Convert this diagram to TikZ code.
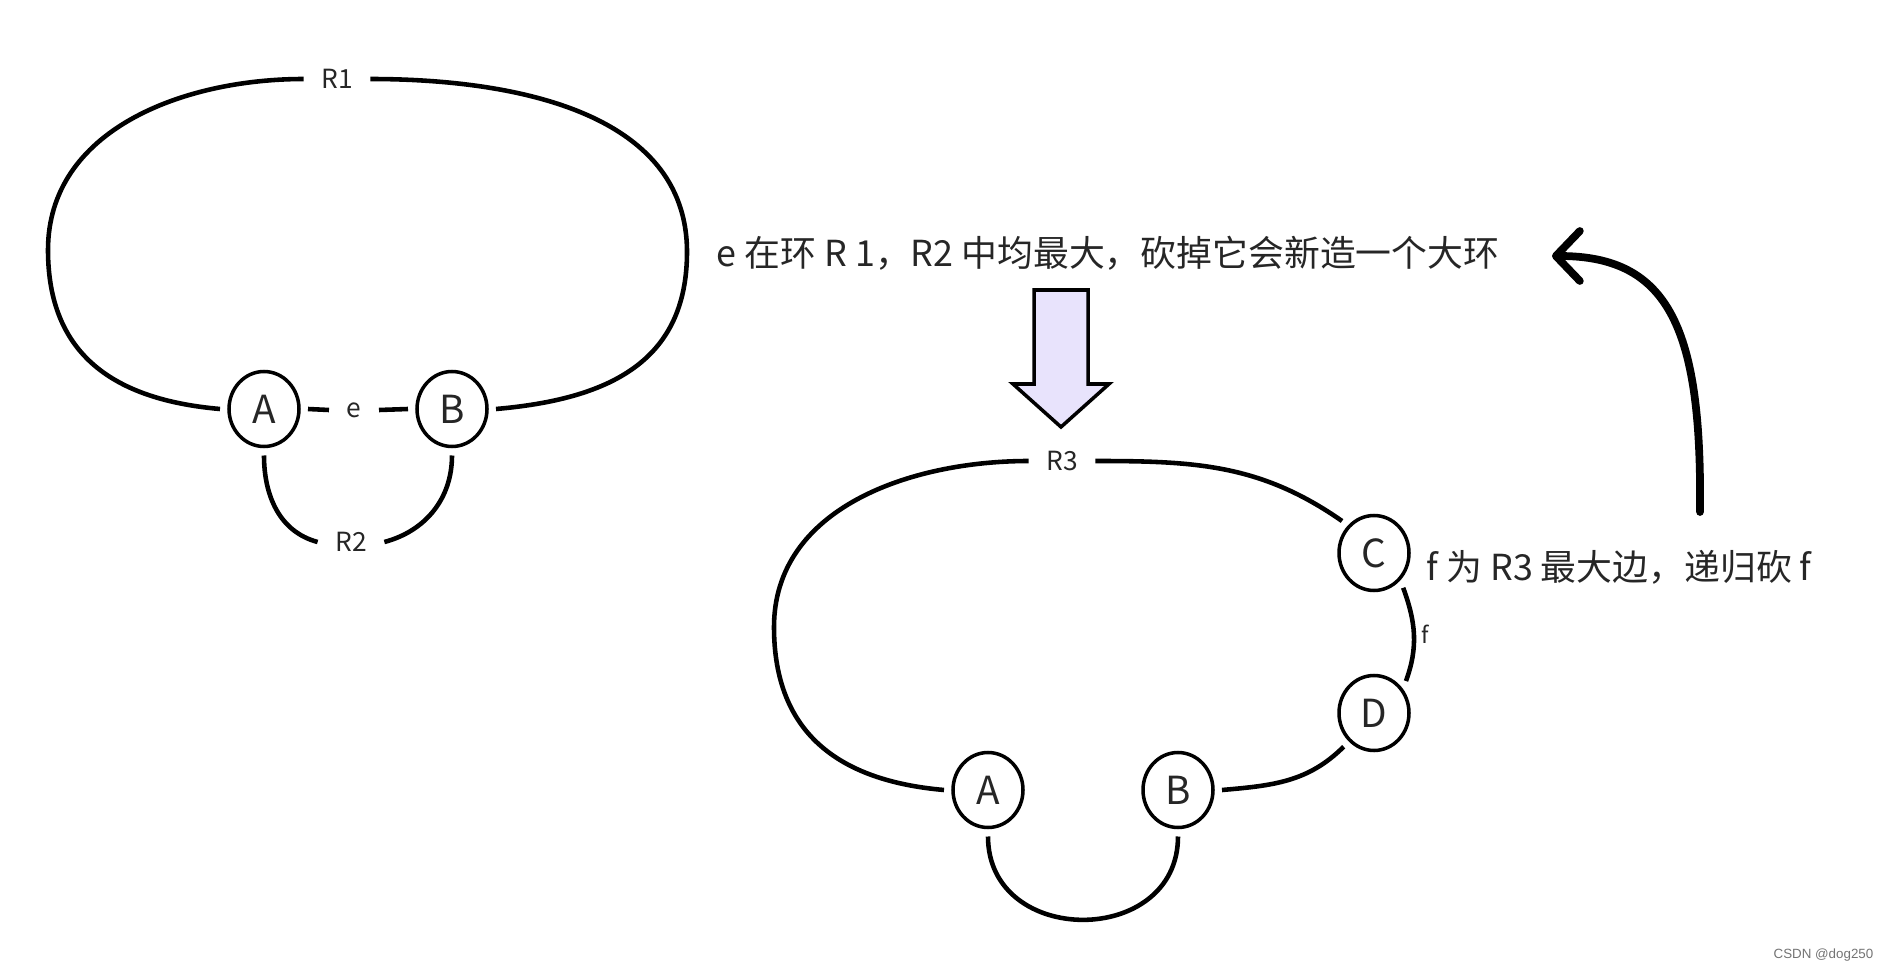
\documentclass[tikz,border=0pt]{standalone}
\usepackage{fontspec}
\setmainfont{Noto Sans CJK SC}
\newfontfamily\markfont{Liberation Sans}
\usepackage{tikz}
\usetikzlibrary{arrows.meta,shapes.geometric}

\definecolor{lavender}{HTML}{E8E3FC}

\begin{document}
\begin{tikzpicture}[
  vtx/.style={draw, ellipse, line width=1pt, minimum width=0.70cm, minimum height=0.75cm,
              inner sep=0pt, outer sep=0.09cm, font=\fontsize{11}{13}\selectfont, text=black!85},
  edge/.style={line width=1.3pt},
  lbl/.style={font=\fontsize{7.5}{9}\selectfont, inner xsep=0.17cm, inner ysep=0.04cm, text=black!85},
  note/.style={font=\fontsize{10.2}{12}\selectfont, anchor=west, inner sep=0pt, text=black!85},
  fat/.style={draw, line width=1pt, fill=lavender, line join=miter},
  back/.style={-{Straight Barb[length=2.4mm,width=5mm,round]}, line width=2.2pt, line cap=round}
]
\useasboundingbox (0,0) rectangle (18.90,9.72);

% before the cut: e lies on R1 and R2
\node[vtx] (A1) at (2.64,5.63) {A};
\node[vtx] (B1) at (4.52,5.63) {B};
\node[lbl] (e)  at (3.54,5.62) {e};
\node[lbl] (R1) at (3.37,8.93) {R1};
\node[lbl] (R2) at (3.51,4.30) {R2};
\coordinate (r1w) at (0.48,7.22);
\coordinate (r1e) at (6.87,7.20);

\draw[edge] (A1.east) -- (e.west);
\draw[edge] (e.east) -- (B1.west);
\draw[edge] (R1.west) to[out=180,in=90] (r1w) to[out=-90,in=175,looseness=1.15] (A1.west);
\draw[edge] (R1.east) to[out=0,in=90] (r1e) to[out=-90,in=5,looseness=1.15] (B1.east);
\draw[edge] (A1.south) to[out=-90,in=165] (R2.west);
\draw[edge] (R2.east) to[out=15,in=-90] (B1.south);

\node[note] (t1) at (7.16,7.19) {e 在环 R 1，R2 中均最大，砍掉它会新造一个大环};

% big arrow down
\draw[fat] (10.34,6.82) -- (10.88,6.82) -- (10.88,5.88) -- (11.09,5.88)
  -- (10.61,5.45) -- (10.13,5.88) -- (10.34,5.88) -- cycle;

% after the cut: one ring R3
\node[vtx] (A2) at (9.88,1.82) {A};
\node[vtx] (B2) at (11.78,1.82) {B};
\node[vtx] (C)  at (13.74,4.19) {C};
\node[vtx] (D)  at (13.74,2.59) {D};
\node[lbl] (R3) at (10.62,5.11) {R3};
\coordinate (r3w) at (7.74,3.45);

\draw[edge] (R3.west) to[out=180,in=90] (r3w) to[out=-90,in=175,looseness=1.15] (A2.west);
\draw[edge] (R3.east) to[out=0,in=145] (C.135);
\draw[edge] (C.-50) to[out=-70,in=70]
  node[right, inner sep=1.5pt, font=\fontsize{6.5}{8}\selectfont, text=black!85] {f} (D.45);
\draw[edge] (D.228) to[out=225,in=5] (B2.east);
\draw[edge] (A2.south) to[out=-90,in=-90,looseness=1.5] (B2.south);

\node[note] (t2) at (14.26,4.05) {f 为 R3 最大边，递归砍 f};

\coordinate (upfrom) at (17.00,4.60);
\coordinate (upto) at (15.52,7.16);
\draw[back] (upfrom) .. controls (17.02,6.42) and (16.70,7.16) .. (upto);

\node[font=\markfont\fontsize{3.8}{5}\selectfont, text=black!55, anchor=east, inner sep=0pt] (mark) at (18.74,0.17) {CSDN @dog250};
\end{tikzpicture}
\end{document}
